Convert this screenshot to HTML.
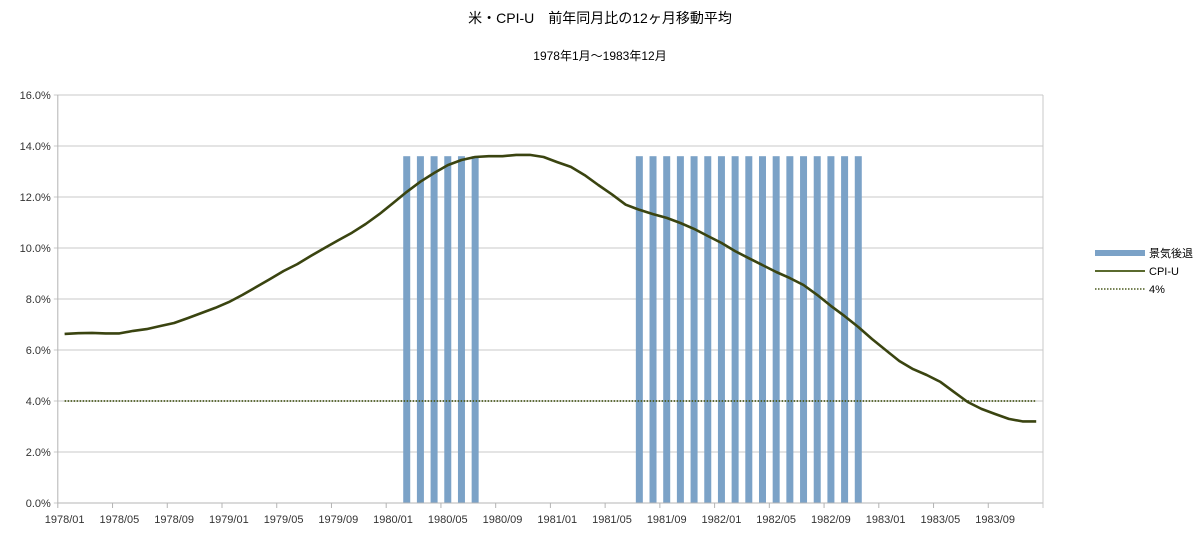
<!DOCTYPE html>
<html><head><meta charset="utf-8"><style>
body{margin:0;background:#fff;}
svg{display:block;font-family:"Liberation Sans","Noto Sans CJK JP",sans-serif;}
</style></head><body>
<svg id="chart" width="1200" height="546">
<text x="600" y="23" text-anchor="middle" font-size="14" fill="#000">米・CPI-U　前年同月比の12ヶ月移動平均</text>
<text x="600" y="60" text-anchor="middle" font-size="12" fill="#000">1978年1月～1983年12月</text>
<g id="grid"></g><g id="bars"></g><g id="lines"></g><g id="axes"></g>
<g>
<rect x="1095" y="250" width="50" height="6" fill="#7ba2c7"/>
<text x="1149" y="257" font-size="11" fill="#000">景気後退</text>
<line x1="1095" y1="271" x2="1145" y2="271" stroke="#5a6a2e" stroke-width="2"/>
<text x="1149" y="275" font-size="11" fill="#000">CPI-U</text>
<line x1="1095" y1="289" x2="1145" y2="289" stroke="#4a5a1e" stroke-width="1.5" stroke-dasharray="1.5,1.5"/>
<text x="1149" y="293" font-size="11" fill="#000">4%</text>
</g>
</svg>
<script>
const months=[];for(let y=1978;y<=1983;y++)for(let m=1;m<=12;m++)months.push(y+'/'+String(m).padStart(2,'0'));
const cpiValues=[6.63,6.66,6.67,6.65,6.65,6.75,6.82,6.94,7.06,7.25,7.45,7.65,7.88,8.16,8.47,8.78,9.1,9.37,9.69,10.0,10.3,10.6,10.94,11.33,11.76,12.2,12.6,12.94,13.25,13.45,13.57,13.6,13.6,13.65,13.65,13.57,13.37,13.18,12.86,12.47,12.1,11.7,11.5,11.33,11.18,10.98,10.75,10.47,10.2,9.88,9.6,9.33,9.06,8.82,8.55,8.16,7.73,7.33,6.9,6.43,6.0,5.57,5.25,5.02,4.75,4.35,3.96,3.69,3.49,3.3,3.2,3.2];
const recessionValues=months.map((m,i)=>((i>=25&&i<=30)||(i>=42&&i<=58))?13.6:0);
const thresholdValue=4;
const yTicks=[0,2,4,6,8,10,12,14,16];
const xLabelEvery=4;
const X0=57.8,X1=1043,Y0=503,Y1=95,N=months.length,bw=(X1-X0)/N;
const xb=i=>X0+i*bw, xc=i=>X0+(i+0.5)*bw, yv=v=>Y0-(v/16)*(Y0-Y1);
const NS='http://www.w3.org/2000/svg';
function mk(t,a,p){const e=document.createElementNS(NS,t);for(const k in a)e.setAttribute(k,a[k]);document.getElementById(p).appendChild(e);return e;}
yTicks.forEach(v=>{
 const l=mk('line',{x1:X0-4,x2:X1,y1:yv(v),y2:yv(v),stroke:'#c8c8c8','stroke-width':1},'grid');
 
 
 const t=mk('text',{x:X0-7,y:yv(v)+4,'text-anchor':'end','font-size':11,fill:'#333'},'axes');
 t.textContent=v.toFixed(1)+'%';
 
 
});
recessionValues.forEach((v,i)=>{if(v<=0)return;
 const r=mk('rect',{x:xc(i)-3.5,y:yv(v),width:7,height:Y0-yv(v),fill:'#7ba2c7'},'bars');
 
 
});
const th=mk('line',{x1:xc(0),x2:xc(N-1),y1:yv(thresholdValue),y2:yv(thresholdValue),stroke:'#4a5a1e','stroke-width':1.8,'stroke-dasharray':'1.5,1.5'},'lines');


const p=mk('path',{d:cpiValues.map((v,i)=>(i?'L':'M')+xc(i).toFixed(1)+','+yv(v).toFixed(1)).join(''),fill:'none',stroke:'#3a4410','stroke-width':2.6,'stroke-linejoin':'round'},'lines');


const ax=mk('line',{x1:X0,x2:X1,y1:Y0,y2:Y0,stroke:'#b4b4b4','stroke-width':1},'axes');


const ay=mk('line',{x1:X0,x2:X0,y1:Y1,y2:Y0,stroke:'#b4b4b4','stroke-width':1},'axes');


const ar=mk('line',{x1:X1,x2:X1,y1:Y1,y2:Y0+5,stroke:'#c8c8c8','stroke-width':1},'axes');


months.forEach((m,i)=>{if(i%xLabelEvery)return;
 const tk=mk('line',{x1:xb(i),x2:xb(i),y1:Y0,y2:Y0+5,stroke:'#b4b4b4'},'axes');
 
 
 const t=mk('text',{x:xc(i),y:Y0+20,'text-anchor':'middle','font-size':11,fill:'#333'},'axes');
 t.textContent=m;
 
 
});
</script>
</body></html>
